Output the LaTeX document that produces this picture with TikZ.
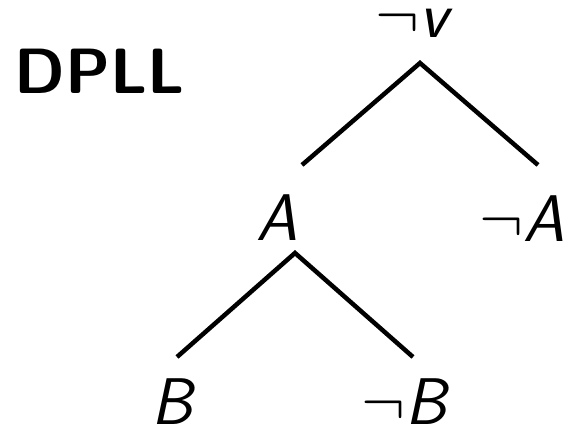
\RequirePackage{fix-cm}
\documentclass[tikz,border=0pt]{standalone}
\begin{document}
\begin{tikzpicture}[x=1pt,y=-1pt,
  lbl/.style={anchor=base west,inner sep=0pt,font=\fontsize{66}{66}\selectfont\sffamily\itshape},
  edge/.style={line width=4.5pt}]
\useasboundingbox (0,0) rectangle (565,428);
\node[anchor=base west,inner sep=0pt,font=\fontsize{64}{64}\selectfont\sffamily\bfseries] (title) at (14,93) {DPLL};
\node[lbl] (nv) at (375,38) {$\neg$v};
\node[lbl] (a) at (256,240) {A};
\node[lbl] (na) at (479,241) {$\neg$A};
\node[lbl] (b) at (151,424) {B};
\node[lbl] (nb) at (361,424) {$\neg$B};
\coordinate (r0) at (420,63);
\coordinate (r1) at (302,165);
\coordinate (r2) at (538,165);
\coordinate (s0) at (295,253);
\coordinate (s1) at (177,357);
\coordinate (s2) at (413,357);
\draw[edge] (r1) -- (r0) -- (r2);
\draw[edge] (s1) -- (s0) -- (s2);
\end{tikzpicture}
\end{document}
